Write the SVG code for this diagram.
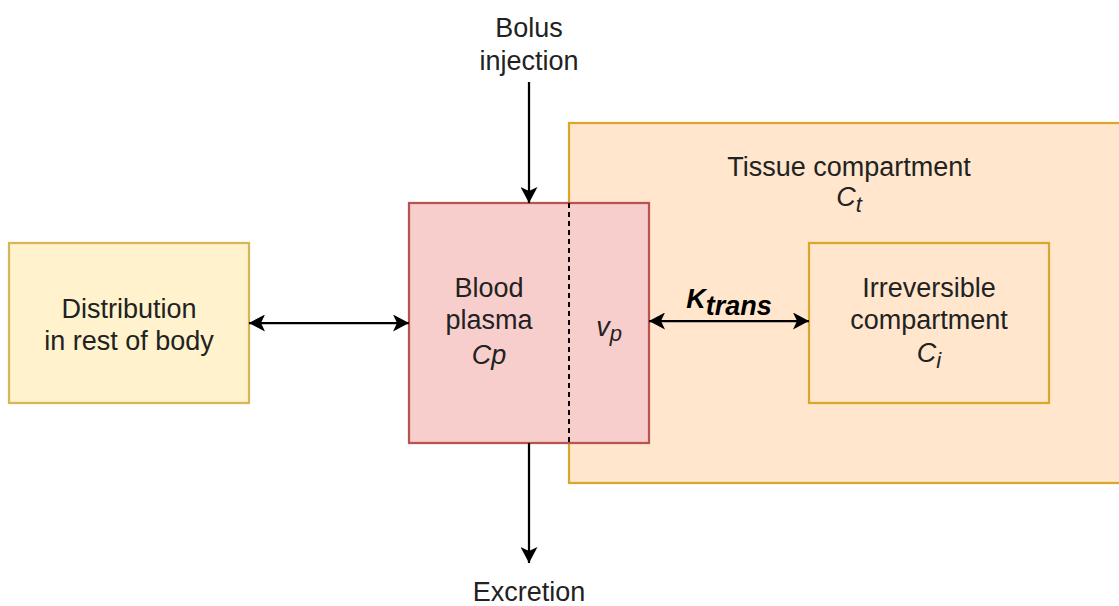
<svg xmlns="http://www.w3.org/2000/svg" width="1119" height="606" viewBox="0 0 1119 606">
<style>
text{font-family:"Liberation Sans",Arial,Helvetica,sans-serif;font-size:27px;fill:#222;text-anchor:middle}
.it{font-style:italic}
.sub{font-size:22px}
.conn{stroke:#000;stroke-width:2.25;fill:none}
</style>
<defs>
<marker id="arr" viewBox="0 0 17 17" markerWidth="17" markerHeight="17" refX="16" refY="8.5" orient="auto-start-reverse" markerUnits="userSpaceOnUse">
<path d="M0,0 L16,8.5 L0,17 L4,8.5 Z" fill="#000"/>
</marker>
</defs>
<rect width="1119" height="606" fill="#fff"/>
<g id="tissue">
<rect x="569" y="123" width="560" height="360" fill="#ffe6cc" stroke="#d9a62e" stroke-width="2.25"/>
<text x="849" y="176">Tissue compartment</text>
<text x="849" y="206"><tspan class="it">C</tspan><tspan class="it sub" dy="6">t</tspan></text>
</g>
<g id="distribution">
<rect x="9" y="243" width="240" height="160" fill="#fff2cc" stroke="#d6b656" stroke-width="2.25"/>
<text x="129" y="318">Distribution</text>
<text x="129" y="350">in rest of body</text>
</g>
<g id="blood">
<rect x="409" y="203" width="240" height="240" fill="#f8cecc" stroke="#b85450" stroke-width="2.25"/>
<line x1="569" y1="203" x2="569" y2="443" stroke="#000" stroke-width="2" stroke-dasharray="5 4"/>
<text x="489" y="297">Blood</text>
<text x="489" y="329">plasma</text>
<text x="489" y="364" class="it">Cp</text>
<text x="609" y="336"><tspan class="it">v</tspan><tspan class="it sub" dy="5">p</tspan></text>
</g>
<g id="irreversible">
<rect x="809" y="243" width="240" height="160" fill="#ffe6cc" stroke="#d9a62e" stroke-width="2.25"/>
<text x="929" y="297">Irreversible</text>
<text x="929" y="329">compartment</text>
<text x="929" y="362"><tspan class="it">C</tspan><tspan class="it sub" dy="6">i</tspan></text>
</g>
<g id="bolus">
<text x="529" y="37">Bolus</text>
<text x="529" y="70">injection</text>
</g>
<g id="excretion">
<text x="529" y="601">Excretion</text>
</g>
<g id="connectors">
<line class="conn" x1="529" y1="82" x2="529" y2="203" marker-end="url(#arr)"/>
<line class="conn" x1="529" y1="443" x2="529" y2="563" marker-end="url(#arr)"/>
<line class="conn" x1="249" y1="323" x2="409" y2="323" marker-start="url(#arr)" marker-end="url(#arr)"/>
<line class="conn" x1="649" y1="321" x2="809" y2="321" marker-start="url(#arr)" marker-end="url(#arr)"/>
<text x="729" y="308" style="font-weight:bold;font-style:italic;fill:#000"><tspan>K</tspan><tspan dy="7">trans</tspan></text>
</g>
</svg>
